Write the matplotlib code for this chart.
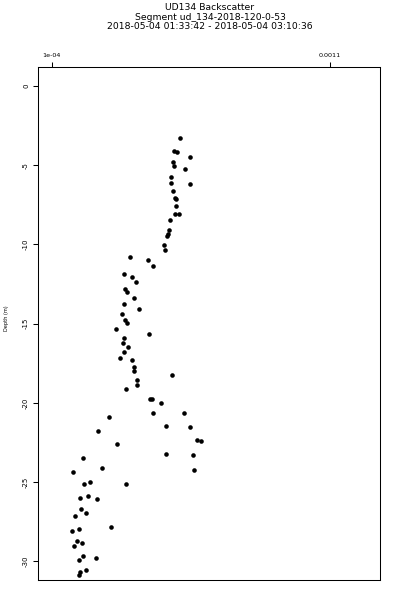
import matplotlib
matplotlib.use("Agg")
import matplotlib.pyplot as plt

backscatter = [5.615e-4, 5.40e-4, 5.52e-4, 5.97e-4, 5.35e-4, 5.41e-4, 5.79e-4, 5.29e-4,
               5.28e-4, 5.97e-4, 5.36e-4, 5.45e-4, 5.47e-4, 5.46e-4, 5.45e-4, 5.59e-4,
               5.24e-4, 5.22e-4, 5.19e-4, 5.14e-4, 5.05e-4, 5.09e-4, 3.82e-4, 4.47e-4,
               4.65e-4, 3.61e-4, 3.90e-4, 4.02e-4, 3.65e-4, 3.72e-4, 3.96e-4, 3.60e-4,
               4.15e-4, 3.54e-4, 3.65e-4, 3.72e-4, 3.32e-4, 4.51e-4, 3.59e-4, 3.56e-4,
               3.76e-4, 3.59e-4, 3.47e-4, 3.89e-4, 3.97e-4, 3.97e-4, 5.34e-4, 4.06e-4,
               4.08e-4, 3.66e-4, 4.55e-4, 4.61e-4, 4.93e-4, 4.63e-4, 5.76e-4, 3.06e-4,
               5.11e-4, 5.97e-4, 2.65e-4, 6.22e-4, 6.36e-4, 3.36e-4, 5.11e-4, 6.09e-4,
               2.14e-4, 2.80e-4, 1.76e-4, 6.13e-4, 2.37e-4, 2.17e-4, 3.66e-4, 2.03e-4,
               2.32e-4, 2.64e-4, 2.06e-4, 2.24e-4, 1.83e-4, 3.13e-4, 1.74e-4, 1.99e-4,
               1.92e-4, 1.80e-4, 2.09e-4, 2.14e-4, 1.97e-4, 2.60e-4, 2.02e-4, 1.98e-4,
               2.22e-4]
depth = [-3.30, -4.08, -4.15, -4.50, -4.78, -5.03, -5.26, -5.73,
         -6.10, -6.17, -6.65, -7.09, -7.16, -7.58, -8.08, -8.06,
         -8.46, -9.09, -9.34, -9.45, -10.02, -10.33, -10.80, -11.00,
         -11.34, -11.85, -12.08, -12.39, -12.83, -13.02, -13.40, -13.78,
         -14.06, -14.38, -14.77, -14.98, -15.32, -15.64, -15.91, -16.24,
         -16.46, -16.81, -17.15, -17.32, -17.72, -17.99, -18.24, -18.56,
         -18.86, -19.15, -19.74, -19.78, -20.03, -20.64, -20.66, -20.92,
         -21.46, -21.55, -21.76, -22.37, -22.41, -22.62, -23.21, -23.31,
         -23.47, -24.14, -24.35, -24.24, -25.02, -25.15, -25.13, -26.01,
         -25.86, -26.07, -26.72, -26.94, -27.17, -27.86, -28.07, -27.97,
         -28.74, -29.02, -28.85, -29.65, -29.91, -29.78, -30.66, -30.85,
         -30.56]

x_ticks = [1e-4, 0.0011]
x_ticklabels = ["1e-04", "0.0011"]
y_ticks = [0, -5, -10, -15, -20, -25, -30]
y_ticklabels = ["0", "-5", "-10", "-15", "-20", "-25", "-30"]
title_lines = ["UD134 Backscatter",
               "Segment ud_134-2018-120-0-53",
               "2018-05-04 01:33:42 - 2018-05-04 03:10:36"]
ylabel = "Depth (m)"

fig = plt.figure(figsize=(4, 6), dpi=100)
ax = fig.add_axes([38.3 / 400, 1 - 580.3 / 600, (380.3 - 38.3) / 400, (580.3 - 67.3) / 600])

ax.plot(backscatter, depth, linestyle="none", marker="o", markersize=3.3,
        color="black", markeredgewidth=0)

ax.set_xlim(5.18e-5, 0.001282)
ax.set_ylim(-31.2, 1.18)

ax.xaxis.tick_top()
ax.set_xticks(x_ticks)
ax.set_xticklabels(x_ticklabels, fontsize=4.6)
ax.set_yticks(y_ticks)
ax.set_yticklabels(y_ticklabels, fontsize=5, rotation=90, va="center")
ax.tick_params(axis="both", direction="out", length=3.6, width=0.75, color="black")
ax.tick_params(axis="x", pad=3.2)
ax.tick_params(axis="y", pad=3.0)
for s in ax.spines.values():
    s.set_linewidth(0.75)

fig.text(6.5 / 400, 1 - 318 / 600, ylabel, rotation=90, fontsize=3.6,
         ha="center", va="center")

for line, yy in zip(title_lines, [7.0, 17.0, 26.8]):
    fig.text(210 / 400, 1 - yy / 600, line, fontsize=6.7, ha="center", va="center")

fig.savefig("out.png", dpi=100, facecolor="white")
